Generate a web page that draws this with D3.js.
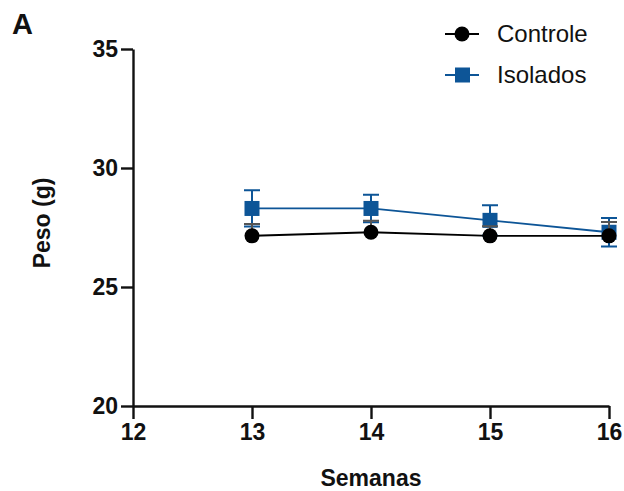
<!DOCTYPE html>
<html>
<head>
<meta charset="utf-8">
<script src="https://cdn.jsdelivr.net/npm/d3@7"></script>
<style>
  body { margin: 0; background: #fff; }
  text { font-family: "Liberation Sans", Arial, sans-serif; }
</style>
</head>
<body>
<svg></svg>
<script>
const semanas = [13, 14, 15, 16];
const controle = [27.15, 27.3, 27.15, 27.15];
const controleSem = [0.5, 0.48, 0.4, 0.58];
const isolados = [28.3, 28.3, 27.8, 27.3];
const isoladosSem = [0.76, 0.58, 0.64, 0.6];
const xTicks = [12, 13, 14, 15, 16];
const yTicks = [20, 25, 30, 35];

const blue = "#0d5597";
const width = 624, height = 491;
const svg = d3.select("svg").attr("width", width).attr("height", height);

const x = d3.scaleLinear().domain([12, 16]).range([133, 609]);
const y = d3.scaleLinear().domain([20, 35]).range([406, 49]);

// y axis
const yAxis = svg.append("g")
  .attr("transform", "translate(133,0)")
  .call(d3.axisLeft(y).tickValues(yTicks).tickFormat(d3.format("d"))
    .tickSize(12).tickSizeOuter(0).tickPadding(3));
// x axis
const xAxis = svg.append("g")
  .attr("transform", "translate(0,406)")
  .call(d3.axisBottom(x).tickValues(xTicks).tickFormat(d3.format("d"))
    .tickSize(13).tickSizeOuter(0).tickPadding(5));

[yAxis, xAxis].forEach(function (g) {
  g.select(".domain").attr("stroke", "#111").attr("stroke-width", 2.4);
  g.selectAll(".tick line").attr("stroke", "#111").attr("stroke-width", 2.4);
  g.selectAll(".tick text")
    .attr("fill", "#111")
    .style("font-size", "23px")
    .style("font-weight", "bold");
});

svg.append("text")
  .attr("transform", "translate(50,223) rotate(-90)")
  .attr("text-anchor", "middle")
  .style("font-size", "23px").style("font-weight", "bold")
  .attr("fill", "#111")
  .text("Peso (g)");

svg.append("text")
  .attr("x", 371).attr("y", 486)
  .attr("text-anchor", "middle")
  .style("font-size", "23px").style("font-weight", "bold")
  .attr("fill", "#111")
  .text("Semanas");

svg.append("text")
  .attr("x", 12).attr("y", 34)
  .style("font-size", "29px").style("font-weight", "bold")
  .attr("fill", "#111")
  .text("A");

function drawSeries(vals, sems, color, barColor, shape, upOnly) {
  const pts = semanas.map(function (s, i) { return { s: s, v: vals[i], e: sems[i] }; });
  const g = svg.append("g");
  g.selectAll(".err").data(pts).enter().append("path")
    .attr("fill", "none").attr("stroke", barColor).attr("stroke-width", 2)
    .attr("d", function (d) {
      const cx = x(d.s), m = y(d.v), t = y(d.v + d.e), b = y(d.v - d.e);
      let p = `M${cx},${m}V${t}M${cx - 8},${t}H${cx + 8}`;
      if (!upOnly) p += `M${cx},${m}V${b}M${cx - 8},${b}H${cx + 8}`;
      return p;
    });
  g.append("path")
    .attr("fill", "none").attr("stroke", color).attr("stroke-width", 1.8)
    .attr("d", d3.line().x(function (d) { return x(d.s); }).y(function (d) { return y(d.v); })(pts));
  if (shape === "circle") {
    g.selectAll(".mk").data(pts).enter().append("circle")
      .attr("cx", function (d) { return x(d.s); })
      .attr("cy", function (d) { return y(d.v); })
      .attr("r", 7.5).attr("fill", color);
  } else {
    g.selectAll(".mk").data(pts).enter().append("rect")
      .attr("x", function (d) { return x(d.s) - 7.5; })
      .attr("y", function (d) { return y(d.v) - 7.5; })
      .attr("width", 15).attr("height", 15).attr("fill", color);
  }
}

drawSeries(isolados, isoladosSem, blue, blue, "square", false);
drawSeries(controle, controleSem, "#000", "#555", "circle", true);

// legend
const legend = [
  { name: "Controle", color: "#000", shape: "circle", y: 34 },
  { name: "Isolados", color: blue, shape: "square", y: 75 }
];
legend.forEach(function (l) {
  svg.append("line").attr("x1", 445).attr("x2", 479).attr("y1", l.y).attr("y2", l.y)
    .attr("stroke", l.color).attr("stroke-width", 1.8);
  if (l.shape === "circle") {
    svg.append("circle").attr("cx", 462).attr("cy", l.y).attr("r", 7.5).attr("fill", l.color);
  } else {
    svg.append("rect").attr("x", 455).attr("y", l.y - 7.5).attr("width", 15).attr("height", 15).attr("fill", l.color);
  }
  svg.append("text").attr("x", 497).attr("y", l.y + 8)
    .style("font-size", "24px").attr("fill", "#111").text(l.name);
});
</script>
</body>
</html>
